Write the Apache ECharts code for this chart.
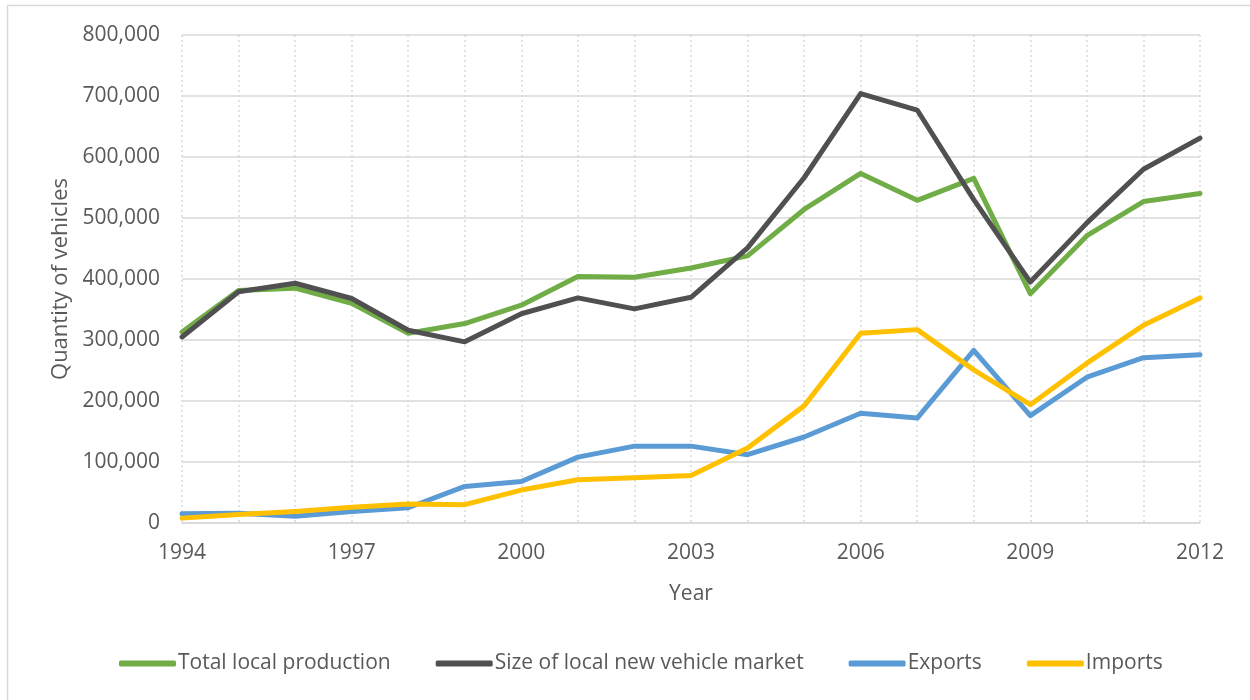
<!DOCTYPE html>
<html>
<head>
<meta charset="utf-8">
<script src="https://cdn.jsdelivr.net/npm/echarts@6/dist/echarts.min.js"></script>
<style>
  html, body { margin: 0; padding: 0; background: #fff; }
  #chart { width: 1250px; height: 700px; }
</style>
</head>
<body>
<div id="chart"></div>
<script>
// Vehicle market figures, 1994–2012
const years = ['1994','1995','1996','1997','1998','1999','2000','2001','2002','2003',
               '2004','2005','2006','2007','2008','2009','2010','2011','2012'];

const totalLocalProduction = [313000, 381000, 385000, 360000, 311000, 327000, 357000, 404000, 403000, 418000,
                              438000, 514000, 573000, 529000, 565000, 376000, 471000, 527000, 540000];
const localNewVehicleMarket = [305000, 379000, 393000, 368000, 316000, 297000, 343000, 369000, 351000, 370000,
                               451000, 566000, 704000, 677000, 530000, 395000, 492000, 580000, 631000];
const exportsData = [15000, 16000, 11000, 19000, 25000, 60000, 68000, 108000, 126000, 126000,
                     112000, 141000, 180000, 172000, 283000, 176000, 239000, 271000, 276000];
const importsData = [8000, 14000, 19000, 26000, 31000, 30000, 54000, 71000, 74000, 78000,
                     123000, 192000, 311000, 317000, 251000, 194000, 262000, 324000, 369000];

const yTicks = { min: 0, max: 800000, interval: 100000 };

const textColor = '#595959';
const fontFamily = '"Open Sans", "Liberation Sans", sans-serif';

function lineSeries(name, data, color) {
  return {
    name: name,
    type: 'line',
    data: data,
    symbol: 'none',
    lineStyle: { width: 5, color: color, cap: 'round', join: 'round' },
    itemStyle: { color: color }
  };
}

const chart = echarts.init(document.getElementById('chart'));
chart.setOption({
  animation: false,
  textStyle: { fontFamily: fontFamily, color: textColor },
  graphic: [{
    type: 'rect',
    shape: { x: 7.5, y: 5.5, width: 1260, height: 720 },
    style: { fill: 'none', stroke: '#d9d9d9', lineWidth: 1.5 },
    silent: true,
    z: -1
  }],
  grid: { left: 182, right: 50, top: 35, bottom: 177, containLabel: false },
  legend: {
    bottom: 21,
    left: 114,
    itemWidth: 57,
    itemHeight: 6,
    itemGap: 45,
    icon: 'roundRect',
    textStyle: { fontSize: 21, color: textColor, fontFamily: fontFamily, padding: [0, 0, 0, -3] },
    data: ['Total local production', 'Size of local new vehicle market', 'Exports', 'Imports']
  },
  xAxis: {
    type: 'category',
    data: years,
    boundaryGap: false,
    name: 'Year',
    nameLocation: 'middle',
    nameGap: 61,
    nameTextStyle: { fontSize: 21, color: textColor },
    axisLine: { show: true, lineStyle: { color: '#d9d9d9', width: 1.5 } },
    axisTick: { show: false },
    axisLabel: { interval: 2, fontSize: 21, color: textColor, margin: 20 },
    splitLine: { show: true, interval: 0, lineStyle: { color: '#d9d9d9', type: [2, 3], width: 1.5 } }
  },
  yAxis: {
    type: 'value',
    min: yTicks.min,
    max: yTicks.max,
    interval: yTicks.interval,
    name: 'Quantity of vehicles',
    nameLocation: 'middle',
    nameGap: 109,
    nameTextStyle: { fontSize: 22, color: textColor },
    axisLine: { show: false },
    axisTick: { show: false },
    axisLabel: {
      fontSize: 21, color: textColor, margin: 22,
      formatter: v => v.toLocaleString('en-US')
    },
    splitLine: { lineStyle: { color: '#d9d9d9', width: 1.5 } }
  },
  series: [
    lineSeries('Total local production', totalLocalProduction, '#70ad47'),
    lineSeries('Size of local new vehicle market', localNewVehicleMarket, '#505050'),
    lineSeries('Exports', exportsData, '#5b9bd5'),
    lineSeries('Imports', importsData, '#ffc000')
  ]
});
</script>
</body>
</html>
